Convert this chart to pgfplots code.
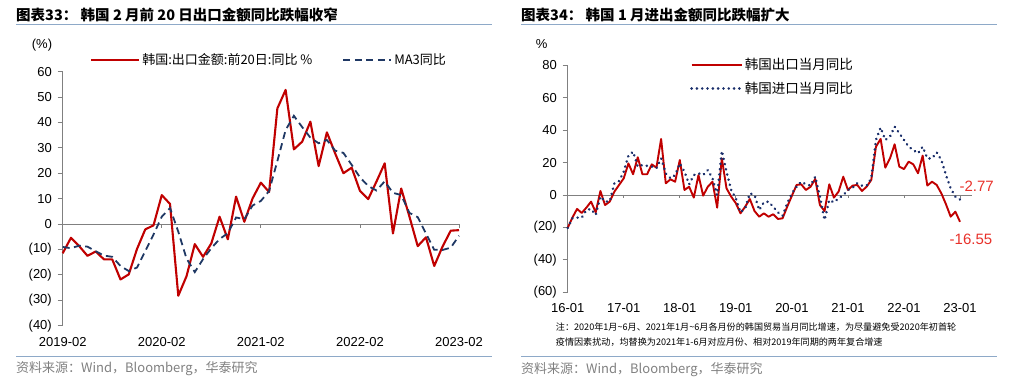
\documentclass[border=0pt]{standalone}
\usepackage{pgfplots}
\pgfplotsset{compat=1.18}
\usepackage{fontspec}
\setmainfont{Liberation Sans}
\newfontfamily\cjk{Noto Sans CJK SC}
\definecolor{hred}{HTML}{C00000}
\definecolor{hnavy}{HTML}{1F3864}
\definecolor{hdot}{HTML}{1B2F6B}
\definecolor{hline}{HTML}{8EA9C8}
\definecolor{hgrey}{HTML}{808080}
\definecolor{anno}{HTML}{E8312A}
\begin{document}
\begin{tikzpicture}
\path[use as bounding box] (0,0) rectangle (1031pt,-385pt);
% ---------- titles and rules
\node[anchor=west, inner sep=0pt, font=\cjk\bfseries\fontsize{14.5}{16}\selectfont] at (16pt,-15pt) {图表33： 韩国 2 月前 20 日出口金额同比跌幅收窄};
\node[anchor=west, inner sep=0pt, font=\cjk\bfseries\fontsize{14.5}{16}\selectfont] at (521pt,-15pt) {图表34： 韩国 1 月进出金额同比跌幅扩大};
\draw[hline, line width=1.2pt] (16pt,-24.5pt) -- (492pt,-24.5pt);
\draw[hline, line width=1.2pt] (521pt,-24.5pt) -- (997pt,-24.5pt);
\draw[hline, line width=1.2pt] (16pt,-356.5pt) -- (492pt,-356.5pt);
\draw[hline, line width=1.2pt] (521pt,-356.5pt) -- (997pt,-356.5pt);
\node[anchor=west, inner sep=0pt, text=hgrey, font=\cjk\fontsize{13}{15}\selectfont] at (16pt,-369pt) {资料来源：Wind，Bloomberg，华泰研究};
\node[anchor=west, inner sep=0pt, text=hgrey, font=\cjk\fontsize{13}{15}\selectfont] at (521pt,-370pt) {资料来源：Wind，Bloomberg，华泰研究};
\node[anchor=west, inner sep=0pt, font=\cjk\fontsize{9.1}{11}\selectfont] at (555.7pt,-327pt) {注：2020年1月\textasciitilde 6月、2021年1月\textasciitilde 6月各月份的韩国贸易当月同比增速，为尽量避免受2020年初首轮};
\node[anchor=west, inner sep=0pt, font=\cjk\fontsize{9.1}{11}\selectfont] at (555.7pt,-341.7pt) {疫情因素扰动，均替换为2021年1-6月对应月份、相对2019年同期的两年复合增速};
\node[font=\fontsize{13}{15}\selectfont] at (42pt,-45.5pt) {(\%)};
\node[font=\fontsize{13}{15}\selectfont] at (541.7pt,-44.5pt) {\%};
% ---------- left chart
\begin{axis}[
 at={(62.7pt,-325.7pt)}, anchor=south west,
 scale only axis, width=396.3pt, height=254.1pt,
 xmin=0, xmax=48, ymin=-40, ymax=60,
 axis y line*=left, axis x line*=bottom,
 x axis line style={draw=none},
 y axis line style={draw=hgrey, line width=0.8pt, -},
 xtick={0,12,24,36,48}, xticklabels={2019-02,2020-02,2021-02,2022-02,2023-02},
 ytick={-40,-30,...,60}, yticklabels={(40),(30),(20),(10),0,10,20,30,40,50,60},
 tick align=outside, major tick length=5pt,
 xtick style={draw=none}, ytick style={draw=hgrey, line width=0.8pt},
 tick label style={font=\fontsize{13}{15}\selectfont, text=black},
 xticklabel style={anchor=center, inner sep=0pt, yshift=-11.6pt},
 yticklabel style={anchor=east, inner sep=0pt, xshift=-5.7pt},
 clip=false,
 legend columns=2,
 legend style={at={(0.0689,1.0457)}, anchor=west, draw=none, fill=none, inner sep=0pt,
   font=\cjk\fontsize{13}{15}\selectfont, /tikz/every even column/.append style={column sep=28pt}},
 legend image code/.code={\draw[#1] (0pt,0pt) -- (48pt,0pt);},
]
\draw[hgrey, line width=0.8pt] (axis cs:0,0) -- (axis cs:48,0);
\pgfplotsinvokeforeach{12,24,36,48}{\draw[hgrey, line width=0.8pt] (axis cs:#1,0) -- ([yshift=-3.5pt]axis cs:#1,0);}
\addplot[hred, line width=2.1pt, line join=round] coordinates {
(0,-11.5) (1,-5.4) (2,-8.7) (3,-12.5) (4,-10.8) (5,-13.9) (6,-13.9) (7,-21.8) (8,-19.8) (9,-9.8)
(10,-2.1) (11,-0.5) (12,11.4) (13,7.9) (14,-28.2) (15,-20.5) (16,-7.9) (17,-12.9) (18,-7.6) (19,2.9)
(20,-6.0) (21,10.8) (22,0.9) (23,10.1) (24,16.3) (25,12.6) (26,45.5) (27,52.8) (28,29.4) (29,32.4)
(30,40.3) (31,22.8) (32,36.1) (33,27.8) (34,20.0) (35,22.2) (36,13.1) (37,9.8) (38,16.7) (39,23.9)
(40,-3.7) (41,14.0) (42,2.9) (43,-8.7) (44,-5.2) (45,-16.5) (46,-8.9) (47,-2.6) (48,-2.4)};
\addlegendentry{韩国:出口金额:前20日:同比 \%}
\addplot[hnavy, line width=1.8pt, dash pattern=on 7pt off 4.5pt] coordinates {
(0,-9.0) (1,-9.5) (2,-8.5) (3,-8.9) (4,-10.7) (5,-12.4) (6,-12.9) (7,-16.5) (8,-18.5) (9,-17.1)
(10,-10.6) (11,-4.1) (12,2.9) (13,6.3) (14,-3.0) (15,-13.6) (16,-18.9) (17,-13.8) (18,-9.5) (19,-5.9)
(20,-3.6) (21,2.6) (22,1.9) (23,7.3) (24,9.1) (25,13.0) (26,24.8) (27,37.0) (28,42.6) (29,38.2)
(30,34.0) (31,31.8) (32,33.1) (33,28.9) (34,28.0) (35,23.3) (36,18.4) (37,15.0) (38,13.2) (39,16.8)
(40,12.3) (41,11.4) (42,4.4) (43,2.7) (44,-3.7) (45,-10.1) (46,-10.2) (47,-9.3) (48,-4.6)};
\addlegendentry{MA3同比}
\end{axis}
% ---------- right chart
\begin{axis}[
 at={(567.7pt,-292.2pt)}, anchor=south west,
 scale only axis, width=404pt, height=226.8pt,
 xmin=0, xmax=86.5, ymin=-60, ymax=80,
 axis y line*=left, axis x line*=bottom,
 x axis line style={draw=none},
 y axis line style={draw=hgrey, line width=0.8pt, -},
 xtick={0,12,24,36,48,60,72,84}, xticklabels={16-01,17-01,18-01,19-01,20-01,21-01,22-01,23-01},
 ytick={-60,-40,...,80}, yticklabels={(60),(40),(20),0,20,40,60,80},
 tick align=outside, major tick length=5pt,
 xtick style={draw=none}, ytick style={draw=hgrey, line width=0.8pt},
 tick label style={font=\fontsize{13}{15}\selectfont, text=black},
 xticklabel style={anchor=center, inner sep=0pt, yshift=-10.5pt},
 yticklabel style={anchor=east, inner sep=0pt, xshift=-5.7pt},
 clip=false,
 legend style={at={(0.3027,1.04)}, anchor=north west, draw=none, fill=none, inner sep=0pt, row sep=7pt,
   font=\cjk\fontsize{13.5}{15}\selectfont},
 legend image code/.code={\draw[#1] (0pt,0pt) -- (50pt,0pt);},
]
\draw[hgrey, line width=0.8pt] (axis cs:0,0) -- (axis cs:86.5,0);
\pgfplotsinvokeforeach{12,24,36,48,60,72,84}{\draw[hgrey, line width=0.8pt] (axis cs:#1,0) -- ([yshift=-3.5pt]axis cs:#1,0);}
\addplot[hred, line width=1.9pt, line join=round] coordinates {
(0,-20.3) (1,-14.0) (2,-8.6) (3,-11.1) (4,-7.8) (5,-4.1) (6,-10.7) (7,2.5) (8,-6.2) (9,-4.1)
(10,2.1) (11,6.2) (12,10.3) (13,19.5) (14,12.8) (15,23.3) (16,12.8) (17,12.8) (18,18.9) (19,16.9)
(20,34.6) (21,7.2) (22,9.7) (23,8.2) (24,21.6) (25,3.1) (26,5.1) (27,-1.6) (28,12.3) (29,-0.4)
(30,5.1) (31,8.2) (32,-7.8) (33,22.6) (34,4.1) (35,-1.0) (36,-5.1) (37,-11.3) (38,-7.2) (39,-2.5)
(40,-9.9) (41,-13.4) (42,-11.3) (43,-13.4) (44,-11.9) (45,-14.8) (46,-14.4) (47,-7.2) (48,-0.5) (49,6.2)
(50,6.6) (51,3.1) (52,5.1) (53,9.9) (54,-6.2) (55,-9.9) (56,6.6) (57,-1.6) (58,2.1) (59,11.3)
(60,3.1) (61,5.8) (62,6.2) (63,2.5) (64,5.1) (65,9.3) (66,29.8) (67,34.6) (68,16.9) (69,22.6)
(70,31.3) (71,17.5) (72,16.0) (73,20.6) (74,18.9) (75,13.4) (76,24.3) (77,5.8) (78,8.2) (79,6.2)
(80,1.0) (81,-5.8) (82,-13.4) (83,-10.3) (84,-16.55)};
\addlegendentry{韩国出口当月同比}
\addplot[hdot, line width=2.8pt, line cap=round, dash pattern=on 0.01pt off 5.3pt] coordinates {
(0,-20.3) (1,-14.4) (2,-14.0) (3,-14.0) (4,-9.3) (5,-8.6) (6,-12.3) (7,-1.0) (8,-4.1) (9,-4.0)
(10,7.2) (11,8.6) (12,14.4) (13,24.3) (14,26.7) (15,17.5) (16,18.5) (17,18.0) (18,17.5) (19,16.5)
(20,22.6) (21,13.4) (22,10.3) (23,12.3) (24,19.5) (25,14.4) (26,6.6) (27,12.3) (28,13.4) (29,12.3)
(30,15.4) (31,10.3) (32,0.0) (33,27.2) (34,14.4) (35,3.1) (36,-2.1) (37,-10.7) (38,-8.2) (39,1.0)
(40,0.0) (41,-9.3) (42,-4.5) (43,-4.1) (44,-7.2) (45,-10.7) (46,-12.8) (47,-5.1) (48,1.0) (49,5.1)
(50,8.2) (51,6.6) (52,5.8) (53,11.3) (54,-1.0) (55,-15.4) (56,-3.1) (57,-4.5) (58,-2.1) (59,0.0)
(60,3.1) (61,4.5) (62,7.2) (63,5.8) (64,5.8) (65,10.3) (66,34.0) (67,41.6) (68,34.0) (69,36.0)
(70,42.2) (71,38.1) (72,34.0) (73,29.8) (74,27.8) (75,25.7) (76,29.8) (77,22.6) (78,22.6) (79,26.3)
(80,21.6) (81,12.3) (82,4.1) (83,-1.0) (84,-2.77)};
\addlegendentry{韩国进口当月同比}
\end{axis}
\node[text=anno, font=\fontsize{15}{17}\selectfont] at (976.7pt,-186pt) {-2.77};
\node[text=anno, font=\fontsize{15}{17}\selectfont] at (971pt,-239pt) {-16.55};
\end{tikzpicture}
\end{document}
